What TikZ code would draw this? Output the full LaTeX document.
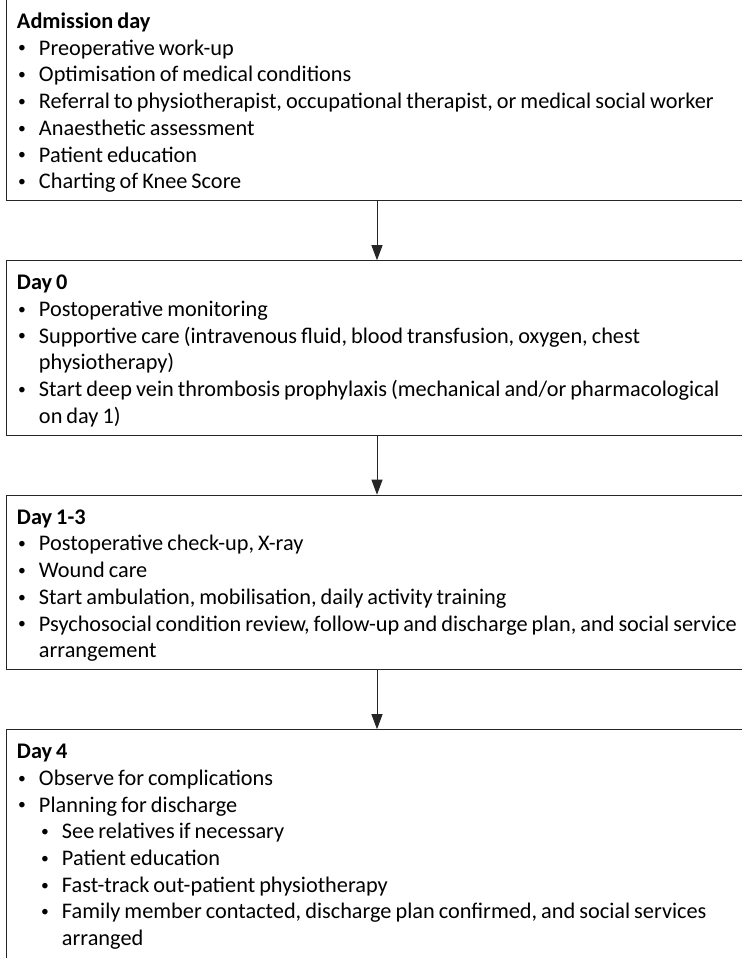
\documentclass[tikz,border=0pt]{standalone}
\usepackage{fontspec}
\setmainfont{Carlito}[WordSpace=0.8]
\usetikzlibrary{positioning,arrows.meta}
\definecolor{LineClr}{rgb}{0.15,0.15,0.15}

% Line starts inside the boxes: bullet, continued bullet, sub-bullet, continued sub-bullet.
\newcommand{\bdot}{\raisebox{1.1pt}{\scalebox{0.7}{\textbullet}}}
\newcommand{\itm}{\makebox[11pt][l]{\hspace*{0.6pt}\bdot}}
\newcommand{\cnt}{\hspace*{11pt}}
\newcommand{\sitm}{\hspace*{11.5pt}\makebox[11pt][l]{\hspace*{0.6pt}\bdot}}
\newcommand{\scnt}{\hspace*{22.5pt}}
% Struts for the first and last line of a box.
\newcommand{\toprl}{\vrule height 14.5pt width 0pt}
\newcommand{\botrl}[1][6pt]{\vrule depth #1 width 0pt}

\tikzset{
  daybox/.style={draw=LineClr,line width=0.5pt,rectangle,anchor=north,
    text width=360pt,inner xsep=5.5pt,inner ysep=0pt,align=flush left,
    font=\fontsize{11.15}{13.35}\selectfont},
  flow/.style={draw=LineClr,line width=0.5pt,-{Triangle[length=7.5pt,width=5.5pt]}}
}

\begin{document}
\begin{tikzpicture}
\useasboundingbox (0,0) rectangle (371pt,-479pt);
\clip (0,0) rectangle (371pt,-479pt);

% The day boxes; they run past the right edge of the page.
\node[daybox] (adm) at (188.5pt,0.5pt) {\toprl\textbf{Admission day}\\
\itm Preoperative work-up\\
\itm Optimisation of medical conditions\\
\itm Referral to physiotherapist, occupational therapist, or medical social worker\\
\itm Anaesthetic assessment\\
\itm Patient education\\
\itm Charting of Knee Score\botrl};

\node[daybox,below=29.5pt of adm] (day0) {\toprl\textbf{Day 0}\\
\itm Postoperative monitoring\\
\itm Supportive care (intravenous fluid, blood transfusion, oxygen, chest\\
\cnt physiotherapy)\\
\itm Start deep vein thrombosis prophylaxis (mechanical and/or pharmacological\\
\cnt on day 1)\botrl};

\node[daybox,below=29.5pt of day0] (day13) {\toprl\textbf{Day 1-3}\\
\itm Postoperative check-up, X-ray\\
\itm Wound care\\
\itm Start ambulation, mobilisation, daily activity training\\
\itm Psychosocial condition review, follow-up and discharge plan, and social service\\
\cnt arrangement\botrl};

\node[daybox,below=29.5pt of day13] (day4) {\toprl\textbf{Day 4}\\
\itm Observe for complications\\
\itm Planning for discharge\\
\sitm See relatives if necessary\\
\sitm Patient education\\
\sitm Fast-track out-patient physiotherapy\\
\sitm Family member contacted, discharge plan confirmed, and social services\\
\scnt arranged\botrl[25pt]};

% Arrows between the days.
\draw[flow] (adm.south) -- (day0.north);
\draw[flow] (day0.south) -- (day13.north);
\draw[flow] (day13.south) -- (day4.north);

\end{tikzpicture}
\end{document}
